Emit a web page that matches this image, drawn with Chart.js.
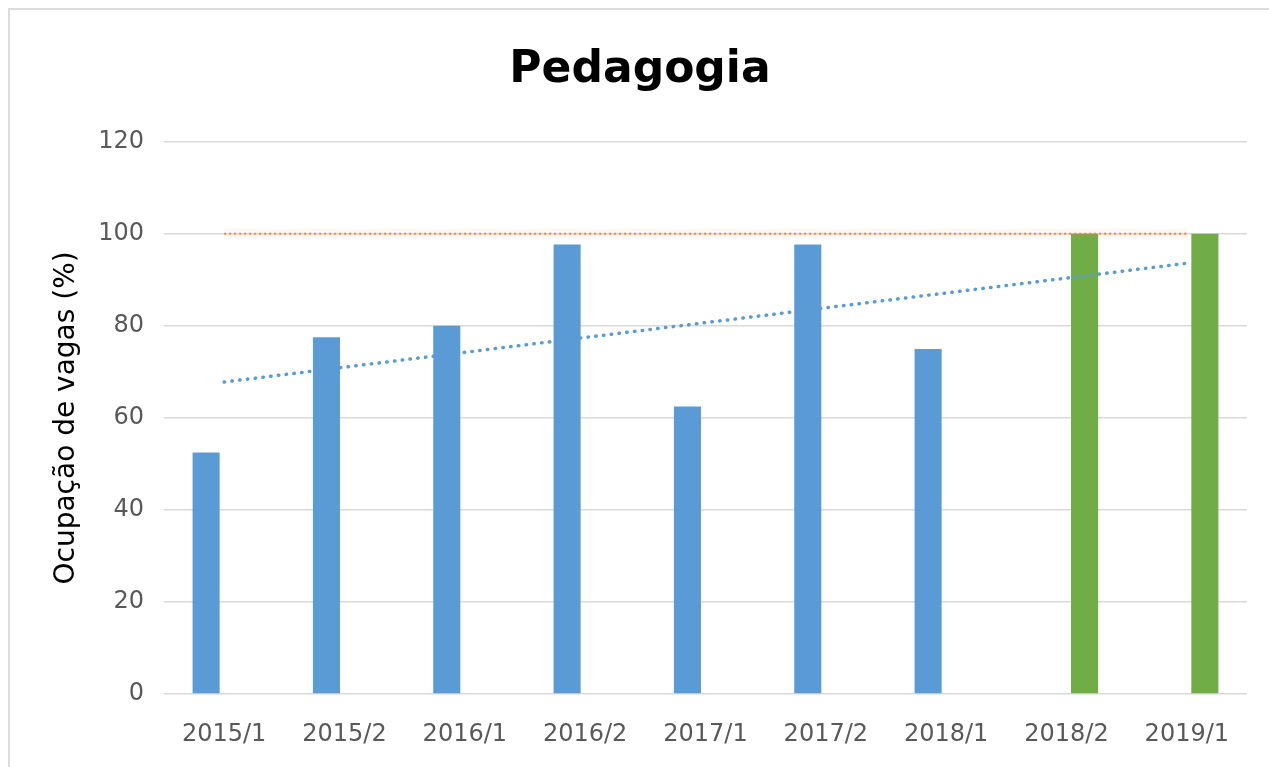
<!DOCTYPE html>
<html>
<head>
<meta charset="utf-8">
<script src="https://cdn.jsdelivr.net/npm/chart.js@4.4.1/dist/chart.umd.min.js"></script>
<style>
  html, body { margin: 0; padding: 0; background: #fff; }
  #wrap { position: relative; width: 1269px; height: 767px; }
  #frame { position: absolute; left: 8px; top: 8px; right: 0; bottom: 0;
           border-left: 2px solid #dcdcdc; border-top: 2px solid #dcdcdc; }
  canvas { position: absolute; left: 0; top: 0; }
</style>
</head>
<body>
<div id="wrap">
  <div id="frame"></div>
  <canvas id="c" width="1269" height="767"></canvas>
</div>
<script>
const categories = ["2015/1","2015/2","2016/1","2016/2","2017/1","2017/2","2018/1","2018/2","2019/1"];
const pastValues = [52.5, 77.5, 80, 97.7, 62.5, 97.7, 75, null, null];
const recentValues = [null, null, null, null, null, null, null, 100, 100];
const trendValues = [67.8, null, null, null, null, null, null, null, 93.6];
const targetValues = [100, null, null, null, null, null, null, null, 100];
const yTicks = [0, 20, 40, 60, 80, 100, 120];

new Chart(document.getElementById('c'), {
  type: 'bar',
  data: {
    labels: categories,
    datasets: [
      { type: 'line', data: targetValues, borderColor: 'rgba(237,125,49,0.9)', borderWidth: 2,
        borderDash: [2, 3], pointRadius: 0, spanGaps: true, order: 0, fill: false },
      { type: 'line', data: targetValues, borderColor: 'rgba(237,125,49,0.06)', borderWidth: 10,
        pointRadius: 0, spanGaps: true, order: 0, fill: false },
      { type: 'line', data: trendValues, borderColor: '#5B9BD5', borderWidth: 3.5,
        borderDash: [0.5, 7.3], borderCapStyle: 'round', pointRadius: 0, spanGaps: true, order: 0, fill: false },
      { data: pastValues, backgroundColor: '#5B9BD5', categoryPercentage: 0.6, barPercentage: 0.75, order: 1 },
      { data: recentValues, backgroundColor: '#70AD47', categoryPercentage: 0.6, barPercentage: 0.75, order: 1 }
    ]
  },
  options: {
    responsive: false,
    animation: false,
    layout: { padding: { left: 33, right: 22, top: 0, bottom: 0 } },
    plugins: {
      legend: { display: false },
      tooltip: { enabled: false },
      title: {
        display: true, text: 'Pedagogia', color: '#000',
        font: { family: 'DejaVu Sans', weight: 'bold', size: 44 },
        padding: { top: 44, bottom: 45 }
      }
    },
    scales: {
      x: {
        grid: { display: false },
        border: { display: false },
        afterFit: (s) => { s.height = 73; },
        ticks: { color: '#595959', font: { family: 'DejaVu Sans', size: 24 }, padding: 18, maxRotation: 0 }
      },
      y: {
        min: 0, max: 120,
        afterBuildTicks: (s) => { s.ticks = yTicks.map(v => ({ value: v })); },
        afterFit: (s) => { s.width = 131; },
        grid: { color: '#d9d9d9', lineWidth: 1.5, drawTicks: false },
        border: { display: false },
        ticks: { color: '#595959', font: { family: 'DejaVu Sans', size: 24 }, padding: 20 },
        title: {
          display: true, text: 'Ocupação de vagas (%)', color: '#000',
          font: { family: 'DejaVu Sans', size: 28 }, padding: { top: 17, bottom: 0 }
        }
      }
    }
  }
});
</script>
</body>
</html>
